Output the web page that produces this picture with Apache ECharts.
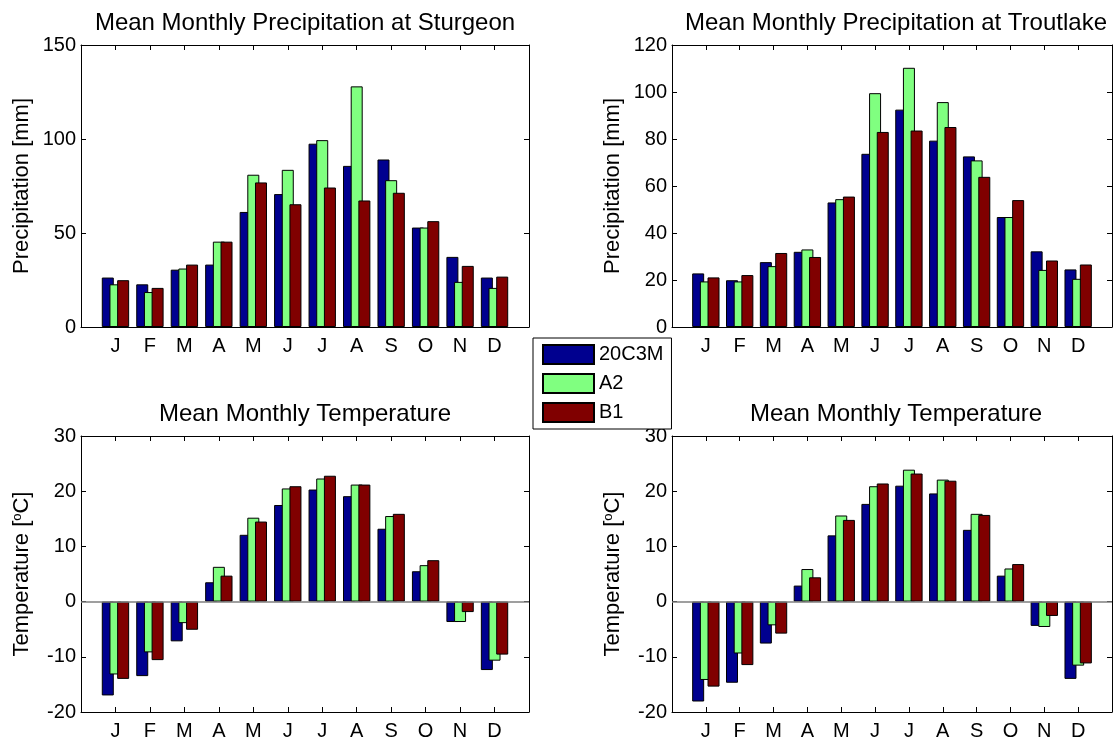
<!DOCTYPE html>
<html>
<head>
<meta charset="utf-8">
<title>Mean Monthly Precipitation and Temperature</title>
<script src="https://cdn.jsdelivr.net/npm/echarts@6/dist/echarts.min.js"></script>
<style>
  html, body { margin: 0; padding: 0; background: #fff; }
  #chart { width: 1115px; height: 741px; }
</style>
</head>
<body>
<div id="chart"></div>
<script>
// Month tick labels and scenario names
const months = ['J', 'F', 'M', 'A', 'M', 'J', 'J', 'A', 'S', 'O', 'N', 'D'];
const scenarios = ['20C3M', 'A2', 'B1'];
const scenarioColors = ['#00008F', '#80FF80', '#800000'];

// Mean monthly precipitation at Sturgeon [mm]
const sturgeonPrecip20C3M = [26.3, 22.7, 30.5, 33.2, 61.2, 70.7, 97.5, 85.7, 89.1, 52.9, 37.3, 26.3];
const sturgeonPrecipA2    = [22.7, 18.6, 31.1, 45.4, 81.0, 83.6, 99.4, 128.0, 78.1, 52.9, 24.0, 20.8];
const sturgeonPrecipB1    = [24.9, 20.8, 33.2, 45.4, 76.9, 65.3, 74.2, 67.3, 71.4, 56.3, 32.5, 26.8];

// Mean monthly precipitation at Troutlake [mm]
const troutlakePrecip20C3M = [22.8, 19.9, 27.6, 32.0, 53.0, 73.7, 92.5, 79.3, 72.6, 46.8, 32.2, 24.5];
const troutlakePrecipA2    = [19.4, 19.4, 25.9, 33.0, 54.4, 99.5, 110.3, 95.7, 70.9, 46.8, 24.3, 20.5];
const troutlakePrecipB1    = [21.1, 22.1, 31.5, 29.8, 55.5, 83.0, 83.6, 85.1, 63.9, 54.0, 28.3, 26.6];

// Mean monthly temperature at Sturgeon [°C]
const sturgeonTemp20C3M = [-17.0, -13.5, -7.2, 3.5, 12.1, 17.5, 20.3, 19.1, 13.2, 5.5, -3.7, -12.4];
const sturgeonTempA2    = [-13.2, -9.2, -3.9, 6.3, 15.2, 20.5, 22.3, 21.2, 15.5, 6.6, -3.7, -10.7];
const sturgeonTempB1    = [-14.0, -10.6, -5.1, 4.7, 14.5, 20.9, 22.8, 21.2, 15.9, 7.5, -1.9, -9.6];

// Mean monthly temperature at Troutlake [°C]
const troutlakeTemp20C3M = [-18.1, -14.7, -7.6, 2.9, 12.0, 17.7, 21.0, 19.6, 13.0, 4.7, -4.4, -14.0];
const troutlakeTempA2    = [-14.2, -9.4, -4.3, 5.9, 15.6, 20.9, 23.9, 22.1, 15.9, 6.0, -4.6, -11.6];
const troutlakeTempB1    = [-15.4, -11.5, -5.8, 4.4, 14.8, 21.4, 23.2, 21.9, 15.7, 6.8, -2.6, -11.2];

const FONT = '"Liberation Sans", Arial, Helvetica, sans-serif';

// Four panels: grid placement, title, y range and data
const panels = [
  { left: 81,  top: 45,  height: 282, title: 'Mean Monthly Precipitation at Sturgeon',
    yName: 'Precipitation [mm]', min: 0, max: 150, interval: 50, zeroLine: false,
    data: [sturgeonPrecip20C3M, sturgeonPrecipA2, sturgeonPrecipB1] },
  { left: 672, top: 45,  height: 282, title: 'Mean Monthly Precipitation at Troutlake',
    yName: 'Precipitation [mm]', min: 0, max: 120, interval: 20, zeroLine: false,
    data: [troutlakePrecip20C3M, troutlakePrecipA2, troutlakePrecipB1] },
  { left: 81,  top: 436, height: 281, title: 'Mean Monthly Temperature',
    yName: 'Temperature [{sup|o}C]', min: -20, max: 30, interval: 10, zeroLine: true,
    data: [sturgeonTemp20C3M, sturgeonTempA2, sturgeonTempB1] },
  { left: 672, top: 436, height: 281, title: 'Mean Monthly Temperature',
    yName: 'Temperature [{sup|o}C]', min: -20, max: 30, interval: 10, zeroLine: true,
    data: [troutlakeTemp20C3M, troutlakeTempA2, troutlakeTempB1] }
];
const GRID_WIDTH = 448;

// Category slots: an empty slot at each end gives half-month margins
const categories = [''].concat(months, ['']);

const option = {
  animation: false,
  backgroundColor: '#fff',
  textStyle: { fontFamily: FONT },
  title: [],
  grid: [],
  xAxis: [],
  yAxis: [],
  series: [],
  legend: {
    data: scenarios,
    orient: 'vertical',
    left: 533,
    top: 338,
    padding: [6, 8, 6, 9],
    itemGap: 8,
    itemWidth: 51,
    itemHeight: 19,
    icon: 'rect',
    borderColor: '#000',
    borderWidth: 1,
    borderRadius: 0,
    backgroundColor: '#fff',
    textStyle: { fontSize: 20, lineHeight: 19, color: '#000', fontFamily: FONT },
    z: 10
  }
};

const lineStyle = { color: '#000', width: 1 };
const tickStyle = { show: true, inside: true, length: 5, lineStyle: lineStyle };

panels.forEach(function (p, i) {
  option.grid.push({ left: p.left, top: p.top, width: GRID_WIDTH, height: p.height, containLabel: false });
  option.title.push({
    text: p.title,
    left: p.left + GRID_WIDTH / 2,
    textAlign: 'center',
    top: p.top - 34,
    padding: 0,
    textStyle: { fontSize: 24, fontWeight: 'normal', color: '#000', fontFamily: FONT }
  });

  // bottom (labelled) and top (ticks only) category axes
  ['bottom', 'top'].forEach(function (pos) {
    option.xAxis.push({
      type: 'category',
      gridIndex: i,
      position: pos,
      data: categories,
      boundaryGap: false,
      axisLine: { show: true, onZero: false, lineStyle: lineStyle },
      axisTick: Object.assign({ interval: 0 }, tickStyle),
      axisLabel: { show: pos === 'bottom', interval: 0, fontSize: 20, color: '#000', margin: 9, fontFamily: FONT },
      splitLine: { show: false }
    });
  });

  // left (labelled) and right (ticks only) value axes
  ['left', 'right'].forEach(function (pos) {
    option.yAxis.push({
      type: 'value',
      gridIndex: i,
      position: pos,
      min: p.min,
      max: p.max,
      interval: p.interval,
      name: pos === 'left' ? p.yName : '',
      nameLocation: 'middle',
      nameGap: 48,
      nameTextStyle: {
        fontSize: 22, color: '#000', fontFamily: FONT,
        rich: { sup: { fontSize: 13, verticalAlign: 'top', padding: [0, 0, 8, 0], color: '#000', fontFamily: FONT } }
      },
      axisLine: { show: true, onZero: false, lineStyle: lineStyle },
      axisTick: tickStyle,
      axisLabel: { show: pos === 'left', fontSize: 20, color: '#000', margin: 5, fontFamily: FONT },
      splitLine: { show: false }
    });
  });

  p.data.forEach(function (values, s) {
    const ser = {
      type: 'bar',
      name: scenarios[s],
      xAxisIndex: i * 2,
      yAxisIndex: i * 2,
      data: ['-'].concat(values, ['-']),
      barWidth: 12,
      barGap: '-36%',
      itemStyle: { color: scenarioColors[s], borderColor: '#000', borderWidth: 1 },
      emphasis: { disabled: true }
    };
    if (s === 0 && p.zeroLine) {
      ser.markLine = {
        silent: true,
        symbol: 'none',
        label: { show: false },
        lineStyle: { color: '#7f7f7f', width: 1.5, type: 'solid' },
        data: [{ yAxis: 0 }]
      };
    }
    option.series.push(ser);
  });
});

const chart = echarts.init(document.getElementById('chart'), null, { renderer: 'canvas' });
chart.setOption(option);
</script>
</body>
</html>
